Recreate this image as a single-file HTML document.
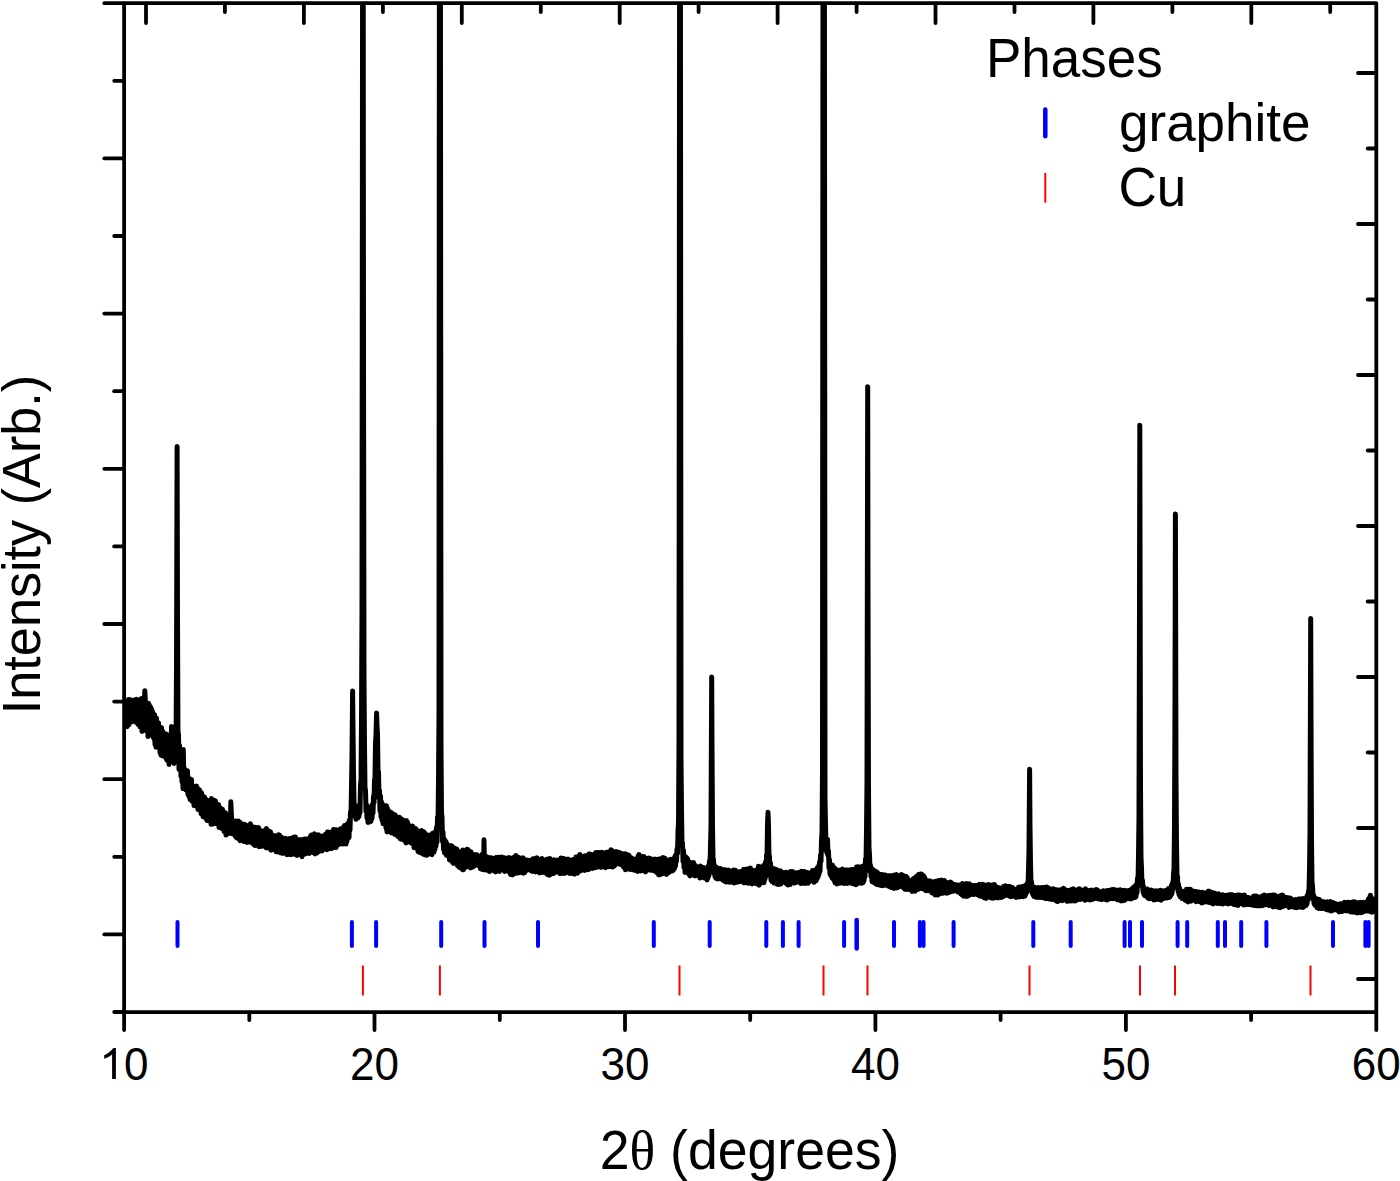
<!DOCTYPE html><html><head><meta charset="utf-8"><style>html,body{margin:0;padding:0;background:#fff;overflow:hidden}svg{display:block}</style></head><body><svg width="1400" height="1181" viewBox="0 0 1400 1181">
<defs><clipPath id="pc"><rect x="124" y="3" width="1252" height="1009"/></clipPath></defs><polyline clip-path="url(#pc)" points="124.0,727.6 124.5,707.7 125.0,722.6 125.5,708.0 126.0,726.6 126.5,704.8 127.0,726.7 127.5,704.0 128.0,725.5 128.5,699.6 129.0,724.7 129.5,699.5 130.0,719.5 130.5,700.7 131.0,719.4 131.5,700.0 132.0,721.7 132.5,702.1 133.0,719.1 133.5,700.8 134.0,718.2 134.5,700.1 135.0,719.5 135.5,701.8 136.0,722.4 136.5,699.3 137.0,721.4 137.5,701.4 138.0,724.4 138.5,701.1 139.0,723.6 139.5,699.8 140.0,726.9 140.5,700.4 141.0,726.2 141.5,698.4 142.0,731.5 142.5,703.3 143.0,728.1 143.5,700.2 144.0,727.0 144.5,701.7 144.8,690.7 145.5,704.4 146.0,730.8 146.5,706.5 147.0,731.4 147.5,707.0 148.0,736.6 148.5,703.3 149.0,735.2 149.5,705.3 150.0,734.8 150.5,706.8 151.0,735.0 151.5,708.8 152.0,733.1 152.5,711.3 153.0,736.9 153.5,715.4 154.0,738.9 154.5,714.4 155.0,744.8 155.5,719.1 156.0,747.2 156.5,718.1 157.0,744.3 157.5,722.4 158.0,745.9 158.5,722.7 159.0,748.0 159.5,727.6 160.0,752.7 160.5,731.1 161.0,755.1 161.5,727.6 162.0,755.8 162.5,730.8 163.0,756.1 163.5,732.4 164.0,755.3 164.5,735.1 165.0,754.4 165.5,734.3 166.0,758.7 166.5,734.1 167.0,760.1 167.5,740.0 168.0,760.9 168.5,742.6 169.0,764.4 169.5,742.7 170.0,760.0 170.5,743.4 171.0,759.9 171.5,726.5 172.0,757.5 172.5,737.2 173.0,761.1 173.5,736.7 174.0,763.5 174.5,732.6 175.0,760.2 175.5,726.9 176.0,744.1 176.5,670.5 177.1,446.4 177.5,618.9 178.0,738.2 178.5,733.8 179.0,769.4 179.5,745.2 180.0,769.4 180.5,750.8 181.0,776.7 181.5,754.2 182.0,782.0 182.5,758.3 183.0,788.7 183.3,749.5 184.0,787.9 184.5,768.4 185.0,786.3 185.5,771.2 186.0,789.9 186.5,774.2 187.0,791.3 187.5,770.8 188.0,794.6 188.5,779.5 189.0,796.4 189.5,778.4 190.0,799.5 190.5,779.2 191.0,799.4 191.5,779.6 192.0,801.3 192.5,785.8 193.0,802.2 193.5,786.9 194.0,805.6 194.5,787.4 195.0,804.6 195.5,788.9 196.0,806.3 196.5,786.0 197.0,806.4 197.5,788.0 198.0,809.5 198.5,790.2 199.0,809.8 199.5,789.8 200.0,810.2 200.5,791.7 201.0,813.8 201.5,792.8 202.0,813.3 202.5,795.2 203.0,816.8 203.5,798.2 204.0,815.7 204.5,796.9 205.0,817.0 205.5,798.8 206.0,818.6 206.5,799.9 207.0,820.5 207.5,801.8 208.0,820.6 208.5,801.7 209.0,820.8 209.5,801.5 210.0,820.8 210.5,800.3 211.0,824.2 211.5,798.6 212.0,824.2 212.5,801.9 213.0,824.1 213.5,801.2 214.0,821.8 214.5,800.3 215.0,820.8 215.5,801.1 216.0,823.6 216.5,803.9 217.0,822.8 217.5,804.4 218.0,824.0 218.5,804.5 219.0,827.4 219.5,809.0 220.0,826.0 220.5,807.7 221.0,825.9 221.5,809.4 222.0,828.6 222.5,809.3 223.0,826.9 223.5,811.7 224.0,831.4 224.5,814.8 225.0,831.0 225.5,812.7 226.0,835.1 226.5,817.7 227.0,831.9 227.5,814.9 228.0,832.1 228.5,815.9 229.0,833.5 229.5,815.5 230.0,831.4 230.5,820.1 230.8,801.7 231.5,817.4 232.0,833.7 232.5,822.5 233.0,833.8 233.5,821.1 234.0,833.4 234.5,823.1 235.0,835.9 235.5,821.0 236.0,837.1 236.5,821.3 237.0,838.1 237.5,822.0 238.0,837.9 238.5,821.1 239.0,839.1 239.5,822.3 240.0,840.7 240.5,822.6 241.0,840.5 241.5,826.2 242.0,840.0 242.5,825.4 243.0,838.5 243.5,826.0 244.0,841.6 244.5,824.2 245.0,840.0 245.5,826.3 246.0,841.0 246.5,825.3 247.0,842.4 247.5,826.7 248.0,838.1 248.5,826.0 249.0,840.5 249.5,825.9 250.0,842.2 250.5,823.8 251.0,841.9 251.5,826.9 252.0,840.9 252.5,826.5 253.0,844.0 253.5,827.5 254.0,844.8 254.5,827.5 255.0,845.6 255.5,827.3 256.0,843.5 256.5,828.3 257.0,843.1 257.5,829.5 258.0,845.1 258.5,827.4 259.0,846.7 259.5,829.4 260.0,845.1 260.5,831.9 261.0,846.5 261.5,831.3 262.0,844.8 262.5,831.2 263.0,846.1 263.5,833.6 264.0,846.3 264.5,830.5 265.0,845.2 265.5,830.2 266.0,847.7 266.5,828.5 267.0,848.1 267.5,831.9 268.0,846.1 268.5,830.8 269.0,846.6 269.5,833.6 270.0,846.7 270.5,831.7 271.0,850.2 271.5,834.2 272.0,849.7 272.5,836.1 273.0,849.5 273.5,835.9 274.0,849.3 274.5,835.6 275.0,849.4 275.5,837.4 276.0,851.7 276.5,836.0 277.0,852.0 277.5,835.7 278.0,850.2 278.5,834.7 279.0,851.9 279.5,834.9 280.0,851.5 280.5,838.9 281.0,853.1 281.5,837.1 282.0,852.7 282.5,839.3 283.0,853.5 283.5,839.8 284.0,852.1 284.5,839.5 285.0,852.4 285.5,838.2 286.0,852.6 286.5,838.8 287.0,854.7 287.5,841.2 288.0,853.3 288.5,839.4 289.0,854.4 289.5,838.6 290.0,852.6 290.5,838.4 291.0,854.7 291.5,839.4 292.0,852.0 292.5,838.5 293.0,853.2 293.5,837.2 294.0,854.2 294.5,837.1 295.0,854.4 295.5,837.0 296.0,852.6 296.5,839.3 297.0,855.4 297.5,840.1 298.0,855.0 298.5,839.9 299.0,853.9 299.5,839.9 300.0,853.6 300.5,839.4 301.0,854.6 301.5,840.7 302.0,856.7 302.5,840.7 303.0,853.0 303.5,839.6 304.0,853.8 304.5,839.1 305.0,854.1 305.5,841.2 306.0,853.2 306.5,838.9 307.0,852.1 307.5,838.9 308.0,849.1 308.5,838.7 309.0,853.6 309.5,838.8 310.0,851.2 310.5,836.2 311.0,852.1 311.5,835.0 312.0,849.6 312.5,835.6 313.0,852.6 313.5,836.9 314.0,852.1 314.5,833.7 315.0,853.9 315.5,835.6 316.0,849.7 316.5,836.9 317.0,852.9 317.5,837.9 318.0,852.0 318.5,834.7 319.0,851.1 319.5,839.0 320.0,851.1 320.5,837.3 321.0,850.1 321.5,836.4 322.0,850.9 322.5,836.0 323.0,847.9 323.5,836.5 324.0,849.1 324.5,836.5 325.0,849.2 325.5,834.3 326.0,846.4 326.5,834.0 327.0,849.8 327.5,831.9 328.0,847.5 328.5,832.1 329.0,846.9 329.5,834.5 330.0,848.6 330.5,832.3 331.0,848.7 331.5,832.3 332.0,848.2 332.5,832.0 333.0,847.9 333.5,829.6 334.0,846.9 334.5,829.5 335.0,844.5 335.5,831.9 336.0,847.6 336.5,829.7 337.0,845.5 337.5,831.8 338.0,843.0 338.5,830.8 339.0,844.5 339.5,832.0 340.0,843.9 340.5,828.7 341.0,843.4 341.5,829.5 342.0,843.2 342.5,829.3 343.0,844.1 343.5,827.3 344.0,841.1 344.5,825.6 345.0,843.5 345.5,827.4 346.0,844.1 346.5,827.2 347.0,841.3 347.5,823.8 348.0,837.5 348.5,822.5 349.0,837.6 349.5,820.1 350.0,830.2 350.5,811.8 351.0,815.0 351.5,786.6 352.0,755.7 352.6,690.9 353.0,729.3 353.5,772.2 354.0,802.2 354.5,805.0 355.0,816.6 355.5,811.5 356.0,819.3 356.5,813.6 357.0,817.8 357.5,812.6 358.0,817.8 358.5,809.3 359.0,816.4 359.5,804.4 360.0,812.6 360.5,784.8 361.0,780.3 361.5,721.6 362.0,608.4 362.6,-50.0 363.2,-50.0 363.5,358.2 364.0,677.9 364.5,745.8 365.0,788.2 365.5,790.2 366.0,811.5 366.5,804.4 367.0,818.1 367.5,809.8 368.0,822.5 368.5,812.1 369.0,821.7 369.5,810.0 370.0,822.0 370.5,808.5 371.0,821.2 371.5,806.1 372.0,818.5 372.5,804.3 373.0,813.2 373.5,796.2 374.0,802.9 374.5,780.1 375.0,777.9 375.5,743.5 376.0,734.8 376.6,713.0 377.0,726.1 377.5,733.9 378.0,770.9 378.5,771.9 379.0,798.4 379.5,790.4 380.0,811.0 380.5,796.0 381.0,817.0 381.5,801.7 382.0,820.3 382.5,803.9 383.0,823.7 383.5,807.1 384.0,822.5 384.5,805.8 385.0,824.4 385.5,806.0 386.0,828.3 386.5,805.7 387.0,831.9 387.5,808.2 388.0,829.6 388.5,811.8 389.0,830.2 389.5,811.4 390.0,829.1 390.5,812.6 391.0,832.8 391.5,812.5 392.0,833.1 392.5,813.9 393.0,832.8 393.5,814.9 394.0,831.0 394.5,814.4 395.0,834.6 395.5,815.3 396.0,833.0 396.5,818.3 397.0,835.4 397.5,819.3 398.0,836.6 398.5,818.6 399.0,836.4 399.5,817.2 400.0,838.6 400.5,818.3 401.0,839.2 401.5,819.1 402.0,838.4 402.5,819.4 403.0,839.3 403.5,821.2 404.0,840.2 404.5,824.3 405.0,841.3 405.5,823.3 406.0,843.0 406.5,820.6 407.0,840.8 407.5,822.0 408.0,839.8 408.5,824.6 409.0,841.9 409.5,827.8 410.0,840.3 410.5,826.2 411.0,842.9 411.5,827.4 412.0,842.2 412.5,826.0 413.0,844.1 413.5,830.1 414.0,847.7 414.5,829.0 415.0,846.2 415.5,828.5 416.0,847.6 416.5,829.5 417.0,849.0 417.5,832.3 418.0,851.6 418.5,831.7 419.0,850.4 419.5,833.0 420.0,852.8 420.5,832.0 421.0,852.4 421.5,830.4 422.0,852.9 422.5,833.4 423.0,854.1 423.5,831.5 424.0,854.6 424.5,832.4 425.0,854.0 425.5,833.7 426.0,855.3 426.5,836.4 427.0,855.3 427.5,834.9 428.0,854.0 428.5,835.7 429.0,853.8 429.5,836.6 430.0,854.0 430.5,834.9 431.0,853.5 431.5,834.3 432.0,854.7 432.5,833.6 433.0,851.8 433.5,832.9 434.0,852.1 434.5,833.1 435.0,849.1 435.5,831.2 436.0,846.2 436.5,827.2 437.0,842.1 437.5,817.1 438.0,824.1 438.5,779.7 439.0,715.9 439.4,-50.0 440.4,-50.0 441.0,745.9 441.5,813.0 442.0,816.6 442.5,841.5 443.0,831.9 443.5,849.5 444.0,838.5 444.5,852.9 445.0,840.3 445.5,853.7 446.0,841.6 446.5,855.3 447.0,843.8 447.5,855.8 448.0,846.3 448.5,855.2 449.0,847.9 449.5,860.0 450.0,848.5 450.5,859.7 451.0,845.6 451.5,859.4 452.0,846.1 452.5,862.3 453.0,847.3 453.5,863.5 454.0,847.9 454.5,861.2 455.0,848.2 455.5,862.6 456.0,850.6 456.5,863.3 457.0,849.2 457.5,865.6 458.0,851.7 458.5,866.5 459.0,852.2 459.5,867.6 460.0,852.8 460.5,867.2 461.0,853.5 461.5,868.4 462.0,851.1 462.5,869.7 463.0,849.9 463.5,869.7 464.0,850.5 464.5,867.9 465.0,852.8 465.5,867.3 466.0,853.7 466.5,866.4 467.0,849.2 467.5,866.5 468.0,849.5 468.5,865.3 469.0,852.8 469.5,865.4 470.0,853.0 470.5,868.0 471.0,851.8 471.5,866.8 472.0,854.7 472.5,867.2 473.0,854.8 473.5,865.3 474.0,854.7 474.5,866.0 475.0,854.6 475.5,864.4 476.0,855.2 476.5,864.1 477.0,854.8 477.5,865.0 478.0,856.4 478.5,865.7 479.0,856.8 479.5,865.5 480.0,857.5 480.5,868.8 481.0,855.8 481.5,869.0 482.0,854.4 482.5,869.6 483.0,855.9 483.5,869.7 484.0,839.7 484.5,869.8 485.0,856.1 485.5,868.8 486.0,856.3 486.5,870.2 487.0,858.7 487.5,869.6 488.0,857.3 488.5,870.2 489.0,858.8 489.5,871.6 490.0,857.8 490.5,870.7 491.0,857.7 491.5,869.4 492.0,857.9 492.5,869.3 493.0,858.9 493.5,870.6 494.0,858.5 494.5,870.5 495.0,858.6 495.5,872.0 496.0,857.6 496.5,868.8 497.0,857.9 497.5,869.6 498.0,857.2 498.5,869.8 499.0,857.7 499.5,871.5 500.0,857.2 500.5,869.1 501.0,857.9 501.5,868.8 502.0,857.0 502.5,869.6 503.0,857.6 503.5,867.6 504.0,858.5 504.5,871.4 505.0,857.8 505.5,870.6 506.0,861.1 506.5,870.8 507.0,860.1 507.5,868.7 508.0,859.6 508.5,871.6 509.0,857.6 509.5,872.2 510.0,859.6 510.5,874.4 511.0,860.0 511.5,873.2 512.0,860.2 512.5,874.9 513.0,857.7 513.5,874.2 514.0,857.2 514.5,872.8 515.0,856.5 515.5,870.5 516.0,855.6 516.5,873.2 517.0,857.3 517.5,871.7 518.0,857.0 518.5,873.0 519.0,857.4 519.5,871.4 520.0,858.5 520.5,870.3 521.0,858.5 521.5,872.5 522.0,858.3 522.5,873.0 523.0,857.8 523.5,873.2 524.0,858.9 524.5,872.8 525.0,859.7 525.5,871.3 526.0,860.2 526.5,869.1 527.0,860.0 527.5,868.8 528.0,860.6 528.5,869.4 529.0,860.2 529.5,869.4 530.0,861.7 530.5,870.6 531.0,860.4 531.5,870.3 532.0,860.0 532.5,871.4 533.0,858.8 533.5,870.8 534.0,860.3 534.5,870.1 535.0,858.5 535.5,872.0 536.0,858.2 536.5,870.8 537.0,857.8 537.5,871.2 538.0,859.3 538.5,872.0 539.0,860.9 539.5,873.0 540.0,859.5 540.5,872.2 541.0,860.8 541.5,872.4 542.0,858.6 542.5,871.4 543.0,860.7 543.5,872.3 544.0,861.1 544.5,870.4 545.0,860.0 545.5,872.7 546.0,859.9 546.5,873.6 547.0,859.3 547.5,874.6 548.0,860.1 548.5,874.7 549.0,858.8 549.5,875.3 550.0,858.4 550.5,874.6 551.0,862.5 551.5,872.4 552.0,859.9 552.5,873.0 553.0,861.4 553.5,873.6 554.0,859.8 554.5,871.3 555.0,860.0 555.5,871.3 556.0,860.7 556.5,871.9 557.0,860.2 557.5,870.3 558.0,860.0 558.5,872.1 559.0,860.1 559.5,873.5 560.0,859.7 560.5,873.4 561.0,858.0 561.5,872.3 562.0,858.3 562.5,873.3 563.0,858.4 563.5,871.5 564.0,858.5 564.5,873.5 565.0,860.6 565.5,872.9 566.0,859.9 566.5,872.1 567.0,860.4 567.5,871.7 568.0,858.9 568.5,872.3 569.0,860.3 569.5,873.4 570.0,860.7 570.5,872.9 571.0,859.9 571.5,873.4 572.0,860.4 572.5,873.2 573.0,860.5 573.5,873.1 574.0,859.2 574.5,874.2 575.0,859.0 575.5,873.3 576.0,857.1 576.5,872.4 577.0,857.8 577.5,873.2 578.0,858.5 578.5,871.3 579.0,855.7 579.5,870.5 580.0,854.4 580.5,871.0 581.0,855.9 581.5,870.3 582.0,856.5 582.5,869.3 583.0,857.9 583.5,869.2 584.0,856.4 584.5,870.5 585.0,855.8 585.5,870.0 586.0,856.7 586.5,868.2 587.0,855.4 587.5,869.7 588.0,855.8 588.5,869.6 589.0,854.1 589.5,868.8 590.0,854.0 590.5,868.5 591.0,856.3 591.5,867.6 592.0,854.7 592.5,868.5 593.0,854.8 593.5,867.5 594.0,854.9 594.5,867.3 595.0,853.6 595.5,867.7 596.0,852.5 596.5,866.4 597.0,852.7 597.5,865.9 598.0,852.6 598.5,867.0 599.0,855.2 599.5,865.2 600.0,852.4 600.5,867.2 601.0,854.3 601.5,867.2 602.0,852.3 602.5,866.8 603.0,854.9 603.5,866.7 604.0,853.8 604.5,867.2 605.0,853.4 605.5,867.7 606.0,852.6 606.5,864.8 607.0,853.3 607.5,864.3 608.0,852.0 608.5,866.8 609.0,851.9 609.5,866.6 610.0,852.3 610.5,866.4 611.0,849.7 611.5,865.2 612.0,850.4 612.5,867.1 613.0,853.1 613.5,864.4 614.0,852.3 614.5,865.9 615.0,852.1 615.5,864.1 616.0,851.4 616.5,864.0 617.0,852.5 617.5,863.7 618.0,852.3 618.5,863.4 619.0,852.3 619.5,863.7 620.0,854.6 620.5,864.6 621.0,853.3 621.5,863.0 622.0,853.4 622.5,864.3 623.0,854.2 623.5,867.2 624.0,854.1 624.5,867.7 625.0,853.8 625.5,869.8 626.0,853.9 626.5,867.7 627.0,855.5 627.5,868.1 628.0,855.0 628.5,869.0 629.0,855.2 629.5,869.3 630.0,856.9 630.5,869.4 631.0,858.1 631.5,869.3 632.0,858.0 632.5,869.7 633.0,859.6 633.5,868.0 634.0,860.1 634.5,870.3 635.0,861.8 635.5,869.9 636.0,858.9 636.5,869.6 637.0,859.8 637.5,871.5 638.0,856.3 638.5,869.3 639.0,854.6 639.5,870.4 640.0,856.3 640.5,871.1 641.0,856.0 641.5,868.0 642.0,856.7 642.5,869.3 643.0,857.8 643.5,870.3 644.0,856.4 644.5,871.1 645.0,858.1 645.5,871.9 646.0,859.0 646.5,870.6 647.0,858.8 647.5,869.4 648.0,858.2 648.5,869.1 649.0,858.0 649.5,868.6 650.0,858.6 650.5,870.3 651.0,858.7 651.5,869.4 652.0,859.8 652.5,870.0 653.0,859.5 653.5,870.8 654.0,859.3 654.5,870.4 655.0,858.9 655.5,870.3 656.0,861.2 656.5,872.5 657.0,859.8 657.5,872.7 658.0,859.3 658.5,874.7 659.0,859.3 659.5,874.9 660.0,858.8 660.5,873.1 661.0,860.1 661.5,874.1 662.0,858.4 662.5,873.8 663.0,857.6 663.5,872.8 664.0,857.9 664.5,872.1 665.0,858.2 665.5,871.9 666.0,860.1 666.5,874.4 667.0,862.0 667.5,873.1 668.0,860.2 668.5,872.8 669.0,860.8 669.5,872.0 670.0,859.7 670.5,870.7 671.0,859.2 671.5,870.6 672.0,859.8 672.5,870.9 673.0,859.9 673.5,869.8 674.0,858.5 674.5,868.4 675.0,856.2 675.5,866.1 676.0,854.5 676.5,861.4 677.0,848.9 677.5,853.5 678.0,831.2 678.5,821.8 679.0,746.0 679.6,-50.0 680.4,-50.0 681.0,757.6 681.5,808.9 682.0,846.2 682.5,842.7 683.0,861.8 683.5,850.3 684.0,867.8 684.5,856.3 685.0,872.4 685.5,856.4 686.0,871.4 686.5,857.5 687.0,872.3 687.5,858.4 688.0,872.6 688.5,861.1 689.0,874.5 689.5,862.1 690.0,875.9 690.5,864.0 691.0,873.7 691.5,863.1 692.0,874.7 692.5,863.0 693.0,874.7 693.5,862.4 694.0,874.5 694.5,864.7 695.0,875.9 695.5,865.6 696.0,874.9 696.5,866.4 697.0,874.7 697.5,867.4 698.0,875.1 698.5,868.1 699.0,876.3 699.5,868.4 700.0,878.1 700.5,866.0 701.0,877.6 701.5,867.7 702.0,876.5 702.5,867.2 703.0,877.4 703.5,868.1 704.0,877.4 704.5,867.7 705.0,878.3 705.5,868.2 706.0,878.2 706.5,868.8 707.0,880.0 707.5,868.2 708.0,878.0 708.5,865.5 709.0,875.3 709.5,860.8 710.0,865.7 710.5,845.9 711.0,825.7 711.7,677.0 712.0,745.6 712.5,824.8 713.0,859.2 713.5,859.5 714.0,873.6 714.5,865.2 715.0,877.0 715.5,867.6 716.0,878.3 716.5,867.2 717.0,878.8 717.5,870.5 718.0,879.0 718.5,869.3 719.0,877.6 719.5,868.5 720.0,877.2 720.5,868.4 721.0,878.6 721.5,869.0 722.0,879.5 722.5,871.5 723.0,880.1 723.5,870.4 724.0,881.0 724.5,869.8 725.0,880.7 725.5,869.9 726.0,882.1 726.5,870.3 727.0,881.1 727.5,870.9 728.0,881.9 728.5,869.9 729.0,880.6 729.5,871.5 730.0,882.3 730.5,871.8 731.0,882.0 731.5,871.4 732.0,880.9 732.5,870.8 733.0,882.0 733.5,869.9 734.0,883.1 734.5,871.2 735.0,881.6 735.5,870.3 736.0,880.5 736.5,871.8 737.0,882.3 737.5,871.8 738.0,881.3 738.5,872.2 739.0,881.2 739.5,872.7 740.0,881.7 740.5,871.4 741.0,880.9 741.5,872.7 742.0,881.2 742.5,872.1 743.0,880.8 743.5,869.6 744.0,882.9 744.5,869.8 745.0,881.3 745.5,869.2 746.0,880.6 746.5,870.3 747.0,883.0 747.5,869.1 748.0,881.4 748.5,870.5 749.0,883.3 749.5,868.6 750.0,882.1 750.5,868.1 751.0,882.5 751.5,870.6 752.0,884.0 752.5,870.3 753.0,882.3 753.5,871.7 754.0,882.8 754.5,871.8 755.0,882.7 755.5,871.0 756.0,883.7 756.5,869.8 757.0,883.1 757.5,869.9 758.0,883.2 758.5,866.3 759.0,885.3 759.5,868.3 760.0,882.3 760.5,867.1 761.0,883.2 761.5,868.6 762.0,882.2 762.5,869.3 763.0,881.4 763.5,865.6 764.0,882.7 764.5,865.1 765.0,879.3 765.5,862.0 766.0,876.3 766.5,855.0 767.0,859.0 767.5,824.2 768.0,812.3 768.5,825.6 769.0,858.4 769.5,856.0 770.0,875.8 770.5,863.0 771.0,880.2 771.5,867.2 772.0,881.6 772.5,869.2 773.0,882.0 773.5,869.7 774.0,883.1 774.5,868.7 775.0,883.0 775.5,870.1 776.0,883.6 776.5,869.4 777.0,884.2 777.5,871.8 778.0,884.5 778.5,872.0 779.0,883.6 779.5,870.8 780.0,884.3 780.5,870.8 781.0,884.0 781.5,872.0 782.0,882.4 782.5,873.7 783.0,882.2 783.5,872.7 784.0,882.0 784.5,872.8 785.0,881.3 785.5,873.9 786.0,883.4 786.5,872.2 787.0,883.4 787.5,872.7 788.0,885.1 788.5,873.3 789.0,883.7 789.5,872.9 790.0,884.6 790.5,871.6 791.0,882.7 791.5,873.3 792.0,882.5 792.5,871.6 793.0,882.4 793.5,873.2 794.0,883.2 794.5,874.1 795.0,882.8 795.5,872.7 796.0,881.8 796.5,873.5 797.0,882.2 797.5,872.7 798.0,881.7 798.5,872.4 799.0,882.2 799.5,873.1 800.0,882.0 800.5,872.0 801.0,883.6 801.5,871.3 802.0,882.4 802.5,871.5 803.0,883.2 803.5,872.2 804.0,882.6 804.5,871.6 805.0,883.4 805.5,873.0 806.0,883.1 806.5,872.7 807.0,883.0 807.5,872.4 808.0,883.3 808.5,874.2 809.0,882.2 809.5,873.5 810.0,880.3 810.5,872.8 811.0,880.3 811.5,872.5 812.0,880.5 812.5,870.4 813.0,880.8 813.5,871.1 814.0,882.3 814.5,870.6 815.0,880.7 815.5,870.8 816.0,880.8 816.5,868.9 817.0,879.0 817.5,867.6 818.0,877.1 818.5,866.3 819.0,874.5 819.5,862.2 820.0,871.2 820.5,855.2 821.0,861.4 821.5,841.2 822.0,832.1 822.5,772.3 823.0,-50.0 824.4,-50.0 825.0,798.8 825.5,822.6 826.0,850.8 826.5,843.4 827.0,853.2 827.5,839.2 828.0,855.6 828.5,851.1 829.0,868.1 829.5,859.6 830.0,874.2 830.5,864.4 831.0,875.9 831.5,867.1 832.0,877.9 832.5,865.1 833.0,878.9 833.5,867.7 834.0,880.5 834.5,867.7 835.0,882.8 835.5,869.0 836.0,881.3 836.5,869.6 837.0,884.1 837.5,869.9 838.0,883.5 838.5,870.7 839.0,881.1 839.5,870.2 840.0,883.2 840.5,871.1 841.0,882.2 841.5,869.7 842.0,882.0 842.5,868.9 843.0,883.0 843.5,871.4 844.0,883.6 844.5,870.3 845.0,882.8 845.5,870.0 846.0,882.5 846.5,869.9 847.0,883.4 847.5,870.0 848.0,880.9 848.5,870.5 849.0,883.1 849.5,870.1 850.0,881.6 850.5,870.0 851.0,883.1 851.5,869.6 852.0,883.6 852.5,870.3 853.0,883.3 853.5,869.5 854.0,884.1 854.5,871.1 855.0,884.1 855.5,869.9 856.0,884.8 856.5,867.0 857.0,883.9 857.5,866.8 858.0,881.2 858.5,866.8 859.0,881.5 859.5,867.6 860.0,881.4 860.5,868.8 861.0,883.3 861.5,866.7 862.0,883.3 862.5,866.3 863.0,882.7 863.5,867.4 864.0,880.9 864.5,865.1 865.0,876.9 865.5,858.8 866.0,864.3 866.5,830.1 867.0,782.3 867.7,386.7 868.0,594.0 868.5,789.6 869.0,848.6 869.5,853.9 870.0,871.4 870.5,865.0 871.0,876.5 871.5,867.9 872.0,881.7 872.5,869.6 873.0,881.0 873.5,869.8 874.0,882.7 874.5,873.5 875.0,883.2 875.5,871.3 876.0,884.0 876.5,871.7 877.0,884.6 877.5,872.4 878.0,883.3 878.5,874.2 879.0,885.1 879.5,873.9 880.0,884.4 880.5,875.0 881.0,885.6 881.5,875.6 882.0,884.0 882.5,874.4 883.0,885.7 883.5,874.9 884.0,884.0 884.5,875.0 885.0,884.6 885.5,874.9 886.0,885.2 886.5,875.4 887.0,885.6 887.5,876.4 888.0,886.1 888.5,875.7 889.0,886.4 889.5,875.7 890.0,886.3 890.5,875.8 891.0,887.5 891.5,876.9 892.0,887.5 892.5,876.2 893.0,887.3 893.5,875.3 894.0,888.5 894.5,875.2 895.0,887.7 895.5,876.0 896.0,887.6 896.5,874.6 897.0,888.0 897.5,875.4 898.0,886.8 898.5,876.7 899.0,886.9 899.5,877.1 900.0,885.7 900.5,875.4 901.0,885.9 901.5,874.6 902.0,886.1 902.5,875.5 903.0,887.3 903.5,875.5 904.0,888.2 904.5,876.0 905.0,889.3 905.5,877.2 906.0,889.6 906.5,876.6 907.0,888.2 907.5,878.1 908.0,888.2 908.5,879.9 909.0,889.4 909.5,882.0 910.0,887.4 910.5,881.9 911.0,888.1 911.5,880.8 912.0,891.5 912.5,879.8 913.0,890.6 913.5,878.5 914.0,889.2 914.5,878.4 915.0,891.3 915.5,877.6 916.0,890.1 916.5,876.3 917.0,888.4 917.5,876.7 918.0,889.4 918.5,874.6 919.0,887.3 919.5,874.7 920.0,887.4 920.5,874.1 921.0,888.4 921.5,874.0 922.0,888.7 922.5,876.2 923.0,888.5 923.5,875.5 924.0,888.8 924.5,876.9 925.0,889.9 925.5,879.3 926.0,890.8 926.5,880.6 927.0,889.6 927.5,881.9 928.0,890.6 928.5,880.7 929.0,889.5 929.5,882.2 930.0,891.0 930.5,881.1 931.0,891.2 931.5,883.2 932.0,892.9 932.5,881.9 933.0,892.5 933.5,882.2 934.0,892.3 934.5,881.8 935.0,895.0 935.5,881.2 936.0,894.6 936.5,881.8 937.0,895.0 937.5,881.8 938.0,895.0 938.5,880.5 939.0,893.6 939.5,880.9 940.0,893.8 940.5,880.9 941.0,892.6 941.5,879.9 942.0,892.8 942.5,881.2 943.0,893.3 943.5,880.9 944.0,891.0 944.5,880.6 945.0,892.6 945.5,884.2 946.0,892.9 946.5,882.2 947.0,893.3 947.5,885.3 948.0,892.8 948.5,883.2 949.0,891.9 949.5,883.7 950.0,892.1 950.5,881.9 951.0,891.2 951.5,882.8 952.0,890.3 952.5,884.8 953.0,891.2 953.5,884.3 954.0,889.4 954.5,884.4 955.0,890.6 955.5,885.2 956.0,890.9 956.5,884.7 957.0,891.2 957.5,885.3 958.0,892.1 958.5,885.3 959.0,892.6 959.5,885.1 960.0,893.1 960.5,884.8 961.0,894.1 961.5,885.5 962.0,894.9 962.5,883.5 963.0,895.7 963.5,886.0 964.0,896.3 964.5,884.7 965.0,895.9 965.5,885.0 966.0,896.3 966.5,883.4 967.0,896.5 967.5,884.8 968.0,895.3 968.5,885.1 969.0,895.5 969.5,883.8 970.0,893.8 970.5,885.5 971.0,894.0 971.5,886.3 972.0,894.4 972.5,885.4 973.0,892.8 973.5,886.5 974.0,894.6 974.5,885.5 975.0,894.2 975.5,886.1 976.0,893.9 976.5,885.5 977.0,894.2 977.5,886.7 978.0,895.0 978.5,884.9 979.0,894.6 979.5,884.3 980.0,896.2 980.5,885.4 981.0,895.8 981.5,884.7 982.0,896.5 982.5,884.3 983.0,895.4 983.5,886.1 984.0,897.7 984.5,885.1 985.0,897.6 985.5,885.2 986.0,898.5 986.5,886.7 987.0,897.7 987.5,886.5 988.0,897.1 988.5,884.6 989.0,895.8 989.5,885.1 990.0,897.2 990.5,885.3 991.0,897.9 991.5,885.8 992.0,897.1 992.5,884.9 993.0,898.3 993.5,886.4 994.0,896.2 994.5,884.5 995.0,897.8 995.5,886.1 996.0,895.9 996.5,887.0 997.0,896.8 997.5,887.8 998.0,898.0 998.5,887.5 999.0,897.5 999.5,888.5 1000.0,896.7 1000.5,888.3 1001.0,897.5 1001.5,888.0 1002.0,896.8 1002.5,887.7 1003.0,896.7 1003.5,886.6 1004.0,895.8 1004.5,887.8 1005.0,895.6 1005.5,885.8 1006.0,894.9 1006.5,886.8 1007.0,894.9 1007.5,886.6 1008.0,895.4 1008.5,887.3 1009.0,895.3 1009.5,886.3 1010.0,896.5 1010.5,886.7 1011.0,896.7 1011.5,887.9 1012.0,896.3 1012.5,887.5 1013.0,896.1 1013.5,888.4 1014.0,895.9 1014.5,889.1 1015.0,896.7 1015.5,890.2 1016.0,897.4 1016.5,890.0 1017.0,896.9 1017.5,889.1 1018.0,896.8 1018.5,887.2 1019.0,897.0 1019.5,887.1 1020.0,896.2 1020.5,887.2 1021.0,896.5 1021.5,887.0 1022.0,895.9 1022.5,886.5 1023.0,896.8 1023.5,886.4 1024.0,895.2 1024.5,886.5 1025.0,896.1 1025.5,885.2 1026.0,893.9 1026.5,885.0 1027.0,891.5 1027.5,882.7 1028.0,886.7 1028.5,870.2 1029.0,850.7 1029.6,769.3 1030.0,827.1 1030.5,863.4 1031.0,882.9 1031.5,881.7 1032.0,892.8 1032.5,885.7 1033.0,894.9 1033.5,887.3 1034.0,896.4 1034.5,887.6 1035.0,895.7 1035.5,887.5 1036.0,897.3 1036.5,888.0 1037.0,896.4 1037.5,887.8 1038.0,897.4 1038.5,887.6 1039.0,896.5 1039.5,889.7 1040.0,897.0 1040.5,888.4 1041.0,897.6 1041.5,887.6 1042.0,896.8 1042.5,888.5 1043.0,897.8 1043.5,887.5 1044.0,898.1 1044.5,888.3 1045.0,897.2 1045.5,887.2 1046.0,898.7 1046.5,887.1 1047.0,898.5 1047.5,887.3 1048.0,898.3 1048.5,888.4 1049.0,898.9 1049.5,888.7 1050.0,898.9 1050.5,889.1 1051.0,899.3 1051.5,889.3 1052.0,899.5 1052.5,889.1 1053.0,899.0 1053.5,888.7 1054.0,899.5 1054.5,889.5 1055.0,899.8 1055.5,889.8 1056.0,900.8 1056.5,890.9 1057.0,901.5 1057.5,889.7 1058.0,901.5 1058.5,891.4 1059.0,899.2 1059.5,891.2 1060.0,900.3 1060.5,889.8 1061.0,899.9 1061.5,889.8 1062.0,900.8 1062.5,889.5 1063.0,900.1 1063.5,888.2 1064.0,898.2 1064.5,888.9 1065.0,899.1 1065.5,890.0 1066.0,898.9 1066.5,890.9 1067.0,901.3 1067.5,890.4 1068.0,901.3 1068.5,891.2 1069.0,900.8 1069.5,890.6 1070.0,899.8 1070.5,891.1 1071.0,901.1 1071.5,889.4 1072.0,899.9 1072.5,889.6 1073.0,900.8 1073.5,888.8 1074.0,899.5 1074.5,890.1 1075.0,901.1 1075.5,890.6 1076.0,900.5 1076.5,892.2 1077.0,899.9 1077.5,890.0 1078.0,897.4 1078.5,889.1 1079.0,899.3 1079.5,888.7 1080.0,899.5 1080.5,889.8 1081.0,898.4 1081.5,890.5 1082.0,898.8 1082.5,890.2 1083.0,898.4 1083.5,890.4 1084.0,899.3 1084.5,889.9 1085.0,900.3 1085.5,888.7 1086.0,898.2 1086.5,890.0 1087.0,898.2 1087.5,890.8 1088.0,899.4 1088.5,891.0 1089.0,898.6 1089.5,890.4 1090.0,900.0 1090.5,890.5 1091.0,899.2 1091.5,889.9 1092.0,899.5 1092.5,890.5 1093.0,899.2 1093.5,891.4 1094.0,898.2 1094.5,890.9 1095.0,898.4 1095.5,889.8 1096.0,897.3 1096.5,889.4 1097.0,897.7 1097.5,889.9 1098.0,898.9 1098.5,891.7 1099.0,898.5 1099.5,891.8 1100.0,899.2 1100.5,892.1 1101.0,899.6 1101.5,892.3 1102.0,899.4 1102.5,891.3 1103.0,898.5 1103.5,890.8 1104.0,899.0 1104.5,892.1 1105.0,899.2 1105.5,890.9 1106.0,899.8 1106.5,891.4 1107.0,900.0 1107.5,890.5 1108.0,899.5 1108.5,890.5 1109.0,898.6 1109.5,891.2 1110.0,898.6 1110.5,889.9 1111.0,898.5 1111.5,890.4 1112.0,897.6 1112.5,889.6 1113.0,898.7 1113.5,890.6 1114.0,898.5 1114.5,889.5 1115.0,898.4 1115.5,890.0 1116.0,899.1 1116.5,891.9 1117.0,898.9 1117.5,890.7 1118.0,900.0 1118.5,889.9 1119.0,898.4 1119.5,890.7 1120.0,900.1 1120.5,889.7 1121.0,901.0 1121.5,890.8 1122.0,899.9 1122.5,890.7 1123.0,900.7 1123.5,891.1 1124.0,900.6 1124.5,890.2 1125.0,899.9 1125.5,892.8 1126.0,898.8 1126.5,891.0 1127.0,898.0 1127.5,891.7 1128.0,898.5 1128.5,890.6 1129.0,898.8 1129.5,890.5 1130.0,898.6 1130.5,890.2 1131.0,898.9 1131.5,889.2 1132.0,898.4 1132.5,888.3 1133.0,896.8 1133.5,887.3 1134.0,897.5 1134.5,886.5 1135.0,897.4 1135.5,885.5 1136.0,896.7 1136.5,884.2 1137.0,892.9 1137.5,878.0 1138.0,881.8 1138.5,855.6 1139.0,817.4 1139.5,606.9 1139.8,425.2 1140.5,787.6 1141.0,857.5 1141.5,867.8 1142.0,886.4 1142.5,880.3 1143.0,891.9 1143.5,886.5 1144.0,894.8 1144.5,889.0 1145.0,895.7 1145.5,889.6 1146.0,896.1 1146.5,889.7 1147.0,896.9 1147.5,889.0 1148.0,898.0 1148.5,891.1 1149.0,898.7 1149.5,891.3 1150.0,898.6 1150.5,891.4 1151.0,898.4 1151.5,889.9 1152.0,898.8 1152.5,891.0 1153.0,899.0 1153.5,890.9 1154.0,900.1 1154.5,891.5 1155.0,898.7 1155.5,890.8 1156.0,898.3 1156.5,891.4 1157.0,899.5 1157.5,891.1 1158.0,898.8 1158.5,891.0 1159.0,898.8 1159.5,890.9 1160.0,899.7 1160.5,890.3 1161.0,900.2 1161.5,891.6 1162.0,899.1 1162.5,890.8 1163.0,898.1 1163.5,891.2 1164.0,898.6 1164.5,891.5 1165.0,898.0 1165.5,890.6 1166.0,897.5 1166.5,890.9 1167.0,897.9 1167.5,889.7 1168.0,897.2 1168.5,888.6 1169.0,897.5 1169.5,888.8 1170.0,896.8 1170.5,888.0 1171.0,895.2 1171.5,885.3 1172.0,893.6 1172.5,882.8 1173.0,888.7 1173.5,874.0 1174.0,869.1 1174.5,825.2 1175.0,703.3 1175.4,514.1 1176.0,777.3 1176.5,843.6 1177.0,875.7 1177.5,876.3 1178.0,891.4 1178.5,884.0 1179.0,894.7 1179.5,887.8 1180.0,896.7 1180.5,890.5 1181.0,897.2 1181.5,891.0 1182.0,898.6 1182.5,892.6 1183.0,898.5 1183.5,891.2 1184.0,898.9 1184.5,891.7 1185.0,900.1 1185.5,891.6 1186.0,900.7 1186.5,889.3 1187.0,899.6 1187.5,889.7 1188.0,902.0 1188.5,889.2 1189.0,901.3 1189.5,889.4 1190.0,900.3 1190.5,889.3 1191.0,901.2 1191.5,890.7 1192.0,899.2 1192.5,891.0 1193.0,899.8 1193.5,890.9 1194.0,900.2 1194.5,891.5 1195.0,899.8 1195.5,893.7 1196.0,901.7 1196.5,891.6 1197.0,900.0 1197.5,893.4 1198.0,901.3 1198.5,892.2 1199.0,901.6 1199.5,892.0 1200.0,901.5 1200.5,892.7 1201.0,902.3 1201.5,893.1 1202.0,903.0 1202.5,892.3 1203.0,902.5 1203.5,893.3 1204.0,902.2 1204.5,894.1 1205.0,901.8 1205.5,895.3 1206.0,901.3 1206.5,892.6 1207.0,902.0 1207.5,892.4 1208.0,901.2 1208.5,891.0 1209.0,902.5 1209.5,892.0 1210.0,902.1 1210.5,891.7 1211.0,903.0 1211.5,892.3 1212.0,901.6 1212.5,893.1 1213.0,904.0 1213.5,892.9 1214.0,902.8 1214.5,893.1 1215.0,903.0 1215.5,893.4 1216.0,901.9 1216.5,894.8 1217.0,903.4 1217.5,894.8 1218.0,903.4 1218.5,893.7 1219.0,903.3 1219.5,894.7 1220.0,903.3 1220.5,895.0 1221.0,903.8 1221.5,895.5 1222.0,902.9 1222.5,894.7 1223.0,903.9 1223.5,895.0 1224.0,903.5 1224.5,895.7 1225.0,903.3 1225.5,895.5 1226.0,902.1 1226.5,895.2 1227.0,902.0 1227.5,895.4 1228.0,903.9 1228.5,895.0 1229.0,903.6 1229.5,894.8 1230.0,903.2 1230.5,894.5 1231.0,903.4 1231.5,895.2 1232.0,903.1 1232.5,894.8 1233.0,903.0 1233.5,895.5 1234.0,904.5 1234.5,895.5 1235.0,903.9 1235.5,895.9 1236.0,904.9 1236.5,895.3 1237.0,905.0 1237.5,894.9 1238.0,905.4 1238.5,894.9 1239.0,902.9 1239.5,894.9 1240.0,903.7 1240.5,895.4 1241.0,902.5 1241.5,895.2 1242.0,903.9 1242.5,896.0 1243.0,903.7 1243.5,895.5 1244.0,905.0 1244.5,895.1 1245.0,904.6 1245.5,896.9 1246.0,904.5 1246.5,897.2 1247.0,904.4 1247.5,897.6 1248.0,904.2 1248.5,897.6 1249.0,904.6 1249.5,898.2 1250.0,904.5 1250.5,898.3 1251.0,904.8 1251.5,898.2 1252.0,905.0 1252.5,898.9 1253.0,905.2 1253.5,896.2 1254.0,905.5 1254.5,896.1 1255.0,905.4 1255.5,896.3 1256.0,904.3 1256.5,895.9 1257.0,905.8 1257.5,896.5 1258.0,905.7 1258.5,897.4 1259.0,905.7 1259.5,897.7 1260.0,905.8 1260.5,897.0 1261.0,905.2 1261.5,896.7 1262.0,905.8 1262.5,895.9 1263.0,903.7 1263.5,895.5 1264.0,903.4 1264.5,895.1 1265.0,904.9 1265.5,895.5 1266.0,903.7 1266.5,896.7 1267.0,904.1 1267.5,895.8 1268.0,904.2 1268.5,895.5 1269.0,905.6 1269.5,895.3 1270.0,904.6 1270.5,897.0 1271.0,905.3 1271.5,895.9 1272.0,905.9 1272.5,894.9 1273.0,906.9 1273.5,895.4 1274.0,906.8 1274.5,894.9 1275.0,906.2 1275.5,895.6 1276.0,906.7 1276.5,896.1 1277.0,905.9 1277.5,897.2 1278.0,906.5 1278.5,897.6 1279.0,907.5 1279.5,897.4 1280.0,907.7 1280.5,895.8 1281.0,906.5 1281.5,895.3 1282.0,906.7 1282.5,894.9 1283.0,906.6 1283.5,896.2 1284.0,906.2 1284.5,897.2 1285.0,905.8 1285.5,897.3 1286.0,905.6 1286.5,897.6 1287.0,905.6 1287.5,897.7 1288.0,906.2 1288.5,897.8 1289.0,907.4 1289.5,898.2 1290.0,906.5 1290.5,898.1 1291.0,906.3 1291.5,899.8 1292.0,906.4 1292.5,899.7 1293.0,907.1 1293.5,900.1 1294.0,907.2 1294.5,900.1 1295.0,907.4 1295.5,899.5 1296.0,907.4 1296.5,900.2 1297.0,907.7 1297.5,900.3 1298.0,906.9 1298.5,899.1 1299.0,906.3 1299.5,899.1 1300.0,907.0 1300.5,899.9 1301.0,907.3 1301.5,898.8 1302.0,906.8 1302.5,899.2 1303.0,907.4 1303.5,898.5 1304.0,906.5 1304.5,899.0 1305.0,905.5 1305.5,898.3 1306.0,905.6 1306.5,896.9 1307.0,903.9 1307.5,894.9 1308.0,900.4 1308.5,891.0 1309.0,890.8 1309.5,869.0 1310.0,831.8 1310.7,618.4 1311.0,720.1 1311.5,839.8 1312.0,882.5 1312.5,885.4 1313.0,899.2 1313.5,894.8 1314.0,903.7 1314.5,897.3 1315.0,905.3 1315.5,898.2 1316.0,905.9 1316.5,898.8 1317.0,907.7 1317.5,899.1 1318.0,907.6 1318.5,900.8 1319.0,908.6 1319.5,899.6 1320.0,908.2 1320.5,900.7 1321.0,908.5 1321.5,901.2 1322.0,908.5 1322.5,901.8 1323.0,907.8 1323.5,901.7 1324.0,907.7 1324.5,901.9 1325.0,908.9 1325.5,902.6 1326.0,909.4 1326.5,902.2 1327.0,909.8 1327.5,901.8 1328.0,910.1 1328.5,902.2 1329.0,910.0 1329.5,902.4 1330.0,910.6 1330.5,901.4 1331.0,911.0 1331.5,903.1 1332.0,910.8 1332.5,902.6 1333.0,909.7 1333.5,902.7 1334.0,909.7 1334.5,903.5 1335.0,909.0 1335.5,903.5 1336.0,909.0 1336.5,903.9 1337.0,910.2 1337.5,904.6 1338.0,910.7 1338.5,904.2 1339.0,911.9 1339.5,904.1 1340.0,911.3 1340.5,903.8 1341.0,911.5 1341.5,903.7 1342.0,911.6 1342.5,904.2 1343.0,910.5 1343.5,903.8 1344.0,909.8 1344.5,902.3 1345.0,910.7 1345.5,903.7 1346.0,910.6 1346.5,902.8 1347.0,911.0 1347.5,902.3 1348.0,910.5 1348.5,902.3 1349.0,911.1 1349.5,902.4 1350.0,911.2 1350.5,902.4 1351.0,912.0 1351.5,902.8 1352.0,912.0 1352.5,902.1 1353.0,912.0 1353.5,901.7 1354.0,911.8 1354.5,902.1 1355.0,912.3 1355.5,901.9 1356.0,912.6 1356.5,902.5 1357.0,913.0 1357.5,903.6 1358.0,912.7 1358.5,903.0 1359.0,911.9 1359.5,902.6 1360.0,912.3 1360.5,902.3 1361.0,912.8 1361.5,902.8 1362.0,911.5 1362.5,903.4 1363.0,912.0 1363.5,902.3 1364.0,911.5 1364.5,903.6 1365.0,911.0 1365.5,902.9 1366.0,910.5 1366.5,903.0 1367.0,908.8 1367.5,901.1 1368.0,911.2 1368.5,898.9 1369.0,909.4 1369.5,897.5 1370.0,910.0 1370.5,895.2 1371.0,912.0 1371.5,898.6 1372.0,912.3 1372.5,899.2 1373.0,911.5 1373.5,899.1 1374.0,909.7 1374.5,899.0 1375.0,909.2 1375.5,898.9 1376.0,909.9" fill="none" stroke="#000" stroke-width="5.0" stroke-linejoin="round" stroke-linecap="round"/>
<line x1="104.3" y1="3.2" x2="123.5" y2="3.2" stroke="#000" stroke-width="3.8" stroke-linecap="round"/>
<line x1="114.2" y1="80.8" x2="123.5" y2="80.8" stroke="#000" stroke-width="3.8" stroke-linecap="round"/>
<line x1="104.3" y1="158.4" x2="123.5" y2="158.4" stroke="#000" stroke-width="3.8" stroke-linecap="round"/>
<line x1="114.2" y1="236.0" x2="123.5" y2="236.0" stroke="#000" stroke-width="3.8" stroke-linecap="round"/>
<line x1="104.3" y1="313.6" x2="123.5" y2="313.6" stroke="#000" stroke-width="3.8" stroke-linecap="round"/>
<line x1="114.2" y1="391.2" x2="123.5" y2="391.2" stroke="#000" stroke-width="3.8" stroke-linecap="round"/>
<line x1="104.3" y1="468.8" x2="123.5" y2="468.8" stroke="#000" stroke-width="3.8" stroke-linecap="round"/>
<line x1="114.2" y1="546.4" x2="123.5" y2="546.4" stroke="#000" stroke-width="3.8" stroke-linecap="round"/>
<line x1="104.3" y1="624.0" x2="123.5" y2="624.0" stroke="#000" stroke-width="3.8" stroke-linecap="round"/>
<line x1="114.2" y1="701.6" x2="123.5" y2="701.6" stroke="#000" stroke-width="3.8" stroke-linecap="round"/>
<line x1="104.3" y1="779.2" x2="123.5" y2="779.2" stroke="#000" stroke-width="3.8" stroke-linecap="round"/>
<line x1="114.2" y1="856.8" x2="123.5" y2="856.8" stroke="#000" stroke-width="3.8" stroke-linecap="round"/>
<line x1="104.3" y1="934.4" x2="123.5" y2="934.4" stroke="#000" stroke-width="3.8" stroke-linecap="round"/>
<line x1="114.2" y1="1012.0" x2="123.5" y2="1012.0" stroke="#000" stroke-width="3.8" stroke-linecap="round"/>
<line x1="124.1" y1="1012.7" x2="124.1" y2="1030.0" stroke="#000" stroke-width="3.8" stroke-linecap="round"/>
<line x1="249.3" y1="1012.7" x2="249.3" y2="1020.0" stroke="#000" stroke-width="3.8" stroke-linecap="round"/>
<line x1="374.5" y1="1012.7" x2="374.5" y2="1030.0" stroke="#000" stroke-width="3.8" stroke-linecap="round"/>
<line x1="499.8" y1="1012.7" x2="499.8" y2="1020.0" stroke="#000" stroke-width="3.8" stroke-linecap="round"/>
<line x1="625.0" y1="1012.7" x2="625.0" y2="1030.0" stroke="#000" stroke-width="3.8" stroke-linecap="round"/>
<line x1="750.2" y1="1012.7" x2="750.2" y2="1020.0" stroke="#000" stroke-width="3.8" stroke-linecap="round"/>
<line x1="875.4" y1="1012.7" x2="875.4" y2="1030.0" stroke="#000" stroke-width="3.8" stroke-linecap="round"/>
<line x1="1000.6" y1="1012.7" x2="1000.6" y2="1020.0" stroke="#000" stroke-width="3.8" stroke-linecap="round"/>
<line x1="1125.9" y1="1012.7" x2="1125.9" y2="1030.0" stroke="#000" stroke-width="3.8" stroke-linecap="round"/>
<line x1="1251.1" y1="1012.7" x2="1251.1" y2="1020.0" stroke="#000" stroke-width="3.8" stroke-linecap="round"/>
<line x1="1376.3" y1="1012.7" x2="1376.3" y2="1030.0" stroke="#000" stroke-width="3.8" stroke-linecap="round"/>
<line x1="146.0" y1="3.8" x2="146.0" y2="23.0" stroke="#000" stroke-width="3.8" stroke-linecap="round"/>
<line x1="224.9" y1="3.8" x2="224.9" y2="12.0" stroke="#000" stroke-width="3.8" stroke-linecap="round"/>
<line x1="303.9" y1="3.8" x2="303.9" y2="23.0" stroke="#000" stroke-width="3.8" stroke-linecap="round"/>
<line x1="382.9" y1="3.8" x2="382.9" y2="12.0" stroke="#000" stroke-width="3.8" stroke-linecap="round"/>
<line x1="461.8" y1="3.8" x2="461.8" y2="23.0" stroke="#000" stroke-width="3.8" stroke-linecap="round"/>
<line x1="540.8" y1="3.8" x2="540.8" y2="12.0" stroke="#000" stroke-width="3.8" stroke-linecap="round"/>
<line x1="619.7" y1="3.8" x2="619.7" y2="23.0" stroke="#000" stroke-width="3.8" stroke-linecap="round"/>
<line x1="698.6" y1="3.8" x2="698.6" y2="12.0" stroke="#000" stroke-width="3.8" stroke-linecap="round"/>
<line x1="777.6" y1="3.8" x2="777.6" y2="23.0" stroke="#000" stroke-width="3.8" stroke-linecap="round"/>
<line x1="856.6" y1="3.8" x2="856.6" y2="12.0" stroke="#000" stroke-width="3.8" stroke-linecap="round"/>
<line x1="935.5" y1="3.8" x2="935.5" y2="23.0" stroke="#000" stroke-width="3.8" stroke-linecap="round"/>
<line x1="1014.5" y1="3.8" x2="1014.5" y2="12.0" stroke="#000" stroke-width="3.8" stroke-linecap="round"/>
<line x1="1093.4" y1="3.8" x2="1093.4" y2="23.0" stroke="#000" stroke-width="3.8" stroke-linecap="round"/>
<line x1="1172.4" y1="3.8" x2="1172.4" y2="12.0" stroke="#000" stroke-width="3.8" stroke-linecap="round"/>
<line x1="1251.3" y1="3.8" x2="1251.3" y2="23.0" stroke="#000" stroke-width="3.8" stroke-linecap="round"/>
<line x1="1330.2" y1="3.8" x2="1330.2" y2="12.0" stroke="#000" stroke-width="3.8" stroke-linecap="round"/>
<line x1="1358.0" y1="73.0" x2="1375.7" y2="73.0" stroke="#000" stroke-width="3.8" stroke-linecap="round"/>
<line x1="1367.7" y1="148.5" x2="1375.7" y2="148.5" stroke="#000" stroke-width="3.8" stroke-linecap="round"/>
<line x1="1358.0" y1="224.0" x2="1375.7" y2="224.0" stroke="#000" stroke-width="3.8" stroke-linecap="round"/>
<line x1="1367.7" y1="299.5" x2="1375.7" y2="299.5" stroke="#000" stroke-width="3.8" stroke-linecap="round"/>
<line x1="1358.0" y1="375.0" x2="1375.7" y2="375.0" stroke="#000" stroke-width="3.8" stroke-linecap="round"/>
<line x1="1367.7" y1="450.5" x2="1375.7" y2="450.5" stroke="#000" stroke-width="3.8" stroke-linecap="round"/>
<line x1="1358.0" y1="526.0" x2="1375.7" y2="526.0" stroke="#000" stroke-width="3.8" stroke-linecap="round"/>
<line x1="1367.7" y1="601.5" x2="1375.7" y2="601.5" stroke="#000" stroke-width="3.8" stroke-linecap="round"/>
<line x1="1358.0" y1="677.0" x2="1375.7" y2="677.0" stroke="#000" stroke-width="3.8" stroke-linecap="round"/>
<line x1="1367.7" y1="752.5" x2="1375.7" y2="752.5" stroke="#000" stroke-width="3.8" stroke-linecap="round"/>
<line x1="1358.0" y1="828.0" x2="1375.7" y2="828.0" stroke="#000" stroke-width="3.8" stroke-linecap="round"/>
<line x1="1367.7" y1="903.5" x2="1375.7" y2="903.5" stroke="#000" stroke-width="3.8" stroke-linecap="round"/>
<line x1="1358.0" y1="979.0" x2="1375.7" y2="979.0" stroke="#000" stroke-width="3.8" stroke-linecap="round"/>
<rect x="124.1" y="3.2" width="1252.2" height="1008.9" fill="none" stroke="#000" stroke-width="3.8" stroke-linejoin="round"/>
<line x1="177.5" y1="922.0" x2="177.5" y2="946.0" stroke="#0000ff" stroke-width="4" stroke-linecap="round"/>
<line x1="351.9" y1="922.0" x2="351.9" y2="946.0" stroke="#0000ff" stroke-width="4" stroke-linecap="round"/>
<line x1="376.1" y1="922.0" x2="376.1" y2="946.0" stroke="#0000ff" stroke-width="4" stroke-linecap="round"/>
<line x1="441.2" y1="922.0" x2="441.2" y2="946.0" stroke="#0000ff" stroke-width="4" stroke-linecap="round"/>
<line x1="484.5" y1="922.0" x2="484.5" y2="946.0" stroke="#0000ff" stroke-width="4" stroke-linecap="round"/>
<line x1="538.0" y1="922.0" x2="538.0" y2="946.0" stroke="#0000ff" stroke-width="4" stroke-linecap="round"/>
<line x1="653.8" y1="922.0" x2="653.8" y2="946.0" stroke="#0000ff" stroke-width="4" stroke-linecap="round"/>
<line x1="709.7" y1="922.0" x2="709.7" y2="946.0" stroke="#0000ff" stroke-width="4" stroke-linecap="round"/>
<line x1="766.3" y1="922.0" x2="766.3" y2="946.0" stroke="#0000ff" stroke-width="4" stroke-linecap="round"/>
<line x1="782.9" y1="922.0" x2="782.9" y2="946.0" stroke="#0000ff" stroke-width="4" stroke-linecap="round"/>
<line x1="798.6" y1="922.0" x2="798.6" y2="946.0" stroke="#0000ff" stroke-width="4" stroke-linecap="round"/>
<line x1="844.1" y1="922.0" x2="844.1" y2="946.0" stroke="#0000ff" stroke-width="4" stroke-linecap="round"/>
<line x1="894.0" y1="922.0" x2="894.0" y2="946.0" stroke="#0000ff" stroke-width="4" stroke-linecap="round"/>
<line x1="919.9" y1="922.0" x2="919.9" y2="946.0" stroke="#0000ff" stroke-width="4" stroke-linecap="round"/>
<line x1="923.5" y1="922.0" x2="923.5" y2="946.0" stroke="#0000ff" stroke-width="4" stroke-linecap="round"/>
<line x1="953.6" y1="922.0" x2="953.6" y2="946.0" stroke="#0000ff" stroke-width="4" stroke-linecap="round"/>
<line x1="1033.3" y1="922.0" x2="1033.3" y2="946.0" stroke="#0000ff" stroke-width="4" stroke-linecap="round"/>
<line x1="1070.7" y1="922.0" x2="1070.7" y2="946.0" stroke="#0000ff" stroke-width="4" stroke-linecap="round"/>
<line x1="1124.6" y1="922.0" x2="1124.6" y2="946.0" stroke="#0000ff" stroke-width="4" stroke-linecap="round"/>
<line x1="1130.0" y1="922.0" x2="1130.0" y2="946.0" stroke="#0000ff" stroke-width="4" stroke-linecap="round"/>
<line x1="1142.0" y1="922.0" x2="1142.0" y2="946.0" stroke="#0000ff" stroke-width="4" stroke-linecap="round"/>
<line x1="1177.6" y1="922.0" x2="1177.6" y2="946.0" stroke="#0000ff" stroke-width="4" stroke-linecap="round"/>
<line x1="1187.2" y1="922.0" x2="1187.2" y2="946.0" stroke="#0000ff" stroke-width="4" stroke-linecap="round"/>
<line x1="1217.8" y1="922.0" x2="1217.8" y2="946.0" stroke="#0000ff" stroke-width="4" stroke-linecap="round"/>
<line x1="1225.0" y1="922.0" x2="1225.0" y2="946.0" stroke="#0000ff" stroke-width="4" stroke-linecap="round"/>
<line x1="1241.2" y1="922.0" x2="1241.2" y2="946.0" stroke="#0000ff" stroke-width="4" stroke-linecap="round"/>
<line x1="1266.4" y1="922.0" x2="1266.4" y2="946.0" stroke="#0000ff" stroke-width="4" stroke-linecap="round"/>
<line x1="1333.0" y1="922.0" x2="1333.0" y2="946.0" stroke="#0000ff" stroke-width="4" stroke-linecap="round"/>
<line x1="1365.4" y1="922.0" x2="1365.4" y2="946.0" stroke="#0000ff" stroke-width="4" stroke-linecap="round"/>
<line x1="1368.6" y1="922.0" x2="1368.6" y2="946.0" stroke="#0000ff" stroke-width="4" stroke-linecap="round"/>
<line x1="856.7" y1="920.0" x2="856.7" y2="948.5" stroke="#0000ff" stroke-width="4.5" stroke-linecap="round"/>
<line x1="362.9" y1="965.5" x2="362.9" y2="995.5" stroke="#ff0000" stroke-width="2" stroke-linecap="butt"/>
<line x1="439.9" y1="965.5" x2="439.9" y2="995.5" stroke="#ff0000" stroke-width="2" stroke-linecap="butt"/>
<line x1="679.5" y1="965.5" x2="679.5" y2="995.5" stroke="#ff0000" stroke-width="2" stroke-linecap="butt"/>
<line x1="823.5" y1="965.5" x2="823.5" y2="995.5" stroke="#ff0000" stroke-width="2" stroke-linecap="butt"/>
<line x1="867.5" y1="965.5" x2="867.5" y2="995.5" stroke="#ff0000" stroke-width="2" stroke-linecap="butt"/>
<line x1="1029.5" y1="965.5" x2="1029.5" y2="995.5" stroke="#ff0000" stroke-width="2" stroke-linecap="butt"/>
<line x1="1140.0" y1="965.5" x2="1140.0" y2="995.5" stroke="#ff0000" stroke-width="2" stroke-linecap="butt"/>
<line x1="1175.0" y1="965.5" x2="1175.0" y2="995.5" stroke="#ff0000" stroke-width="2" stroke-linecap="butt"/>
<line x1="1310.5" y1="965.5" x2="1310.5" y2="995.5" stroke="#ff0000" stroke-width="2" stroke-linecap="butt"/>
<line x1="1045.3" y1="109.5" x2="1045.3" y2="136.3" stroke="#0000ff" stroke-width="4.5" stroke-linecap="round"/>
<line x1="1045.3" y1="173.0" x2="1045.3" y2="202.6" stroke="#ff0000" stroke-width="2" stroke-linecap="butt"/>
<text transform="translate(986,76.8) scale(1,1.03)" font-family="'Liberation Sans', sans-serif" font-size="53">Phases</text>
<text transform="translate(1119,140.6) scale(1,1.0)" font-family="'Liberation Sans', sans-serif" font-size="53">graphite</text>
<text transform="translate(1118.5,205.5) scale(1,1.04)" font-family="'Liberation Sans', sans-serif" font-size="53">Cu</text>
<text transform="translate(124,1079.8) scale(1,1.04)" font-family="'Liberation Sans', sans-serif" font-size="44">0</text>
<path d="M115.9,1047.9 L115.9,1078.9 L112.1,1078.9 L112.1,1054.6 C110,1056.4 107,1057.9 104.2,1058.8 L104.2,1055.3 C107.5,1053.8 111,1051.2 113.4,1047.9 Z" fill="#000"/>
<text transform="translate(374.5,1079.8) scale(1,1.04)" font-family="'Liberation Sans', sans-serif" font-size="44" text-anchor="middle">20</text>
<text transform="translate(625.0,1079.8) scale(1,1.04)" font-family="'Liberation Sans', sans-serif" font-size="44" text-anchor="middle">30</text>
<text transform="translate(875.4,1079.8) scale(1,1.04)" font-family="'Liberation Sans', sans-serif" font-size="44" text-anchor="middle">40</text>
<text transform="translate(1125.9,1079.8) scale(1,1.04)" font-family="'Liberation Sans', sans-serif" font-size="44" text-anchor="middle">50</text>
<text transform="translate(1376.3,1079.8) scale(1,1.04)" font-family="'Liberation Sans', sans-serif" font-size="44" text-anchor="middle">60</text>
<text transform="translate(749.6,1169) scale(1,1.035)" font-family="'Liberation Sans', sans-serif" font-size="53.6" text-anchor="middle">2<tspan font-family="'Liberation Serif', serif">θ</tspan> (degrees)</text>
<text transform="translate(39.5,544.5) rotate(-90) scale(1,1.04)" font-family="'Liberation Sans', sans-serif" font-size="52.2" text-anchor="middle">Intensity (Arb.)</text>
</svg></body></html>
